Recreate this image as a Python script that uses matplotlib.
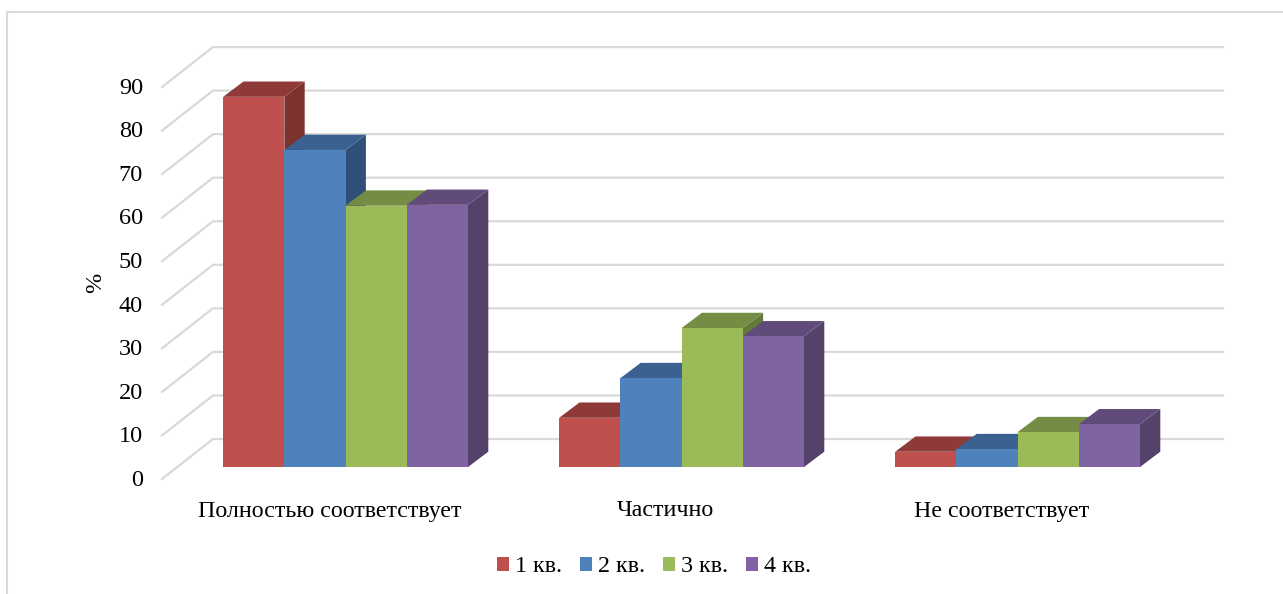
import matplotlib
matplotlib.use('Agg')
import matplotlib.pyplot as plt
from matplotlib.lines import Line2D
from matplotlib.patches import Polygon
import numpy as np

plt.rcParams['font.family'] = ['Liberation Serif', 'DejaVu Serif']

# data
categories = ['Полностью соответствует', 'Частично', 'Не соответствует']
quarters = ['1 кв.', '2 кв.', '3 кв.', '4 кв.']
q1 = [85.0, 11.3, 3.5]
q2 = [72.8, 20.4, 4.1]
q3 = [60.0, 31.9, 8.0]
q4 = [60.2, 30.0, 9.8]
y_ticks = [0, 10, 20, 30, 40, 50, 60, 70, 80, 90]

front = ['#C0504D', '#4F81BD', '#9BBB59', '#8064A2']
top = ['#8E3A38', '#3B6190', '#748C43', '#604B7A']
side = ['#7D3230', '#2F5078', '#657A3A', '#54426A']
grid_col = '#D9D9D9'

W, H = 1283, 594
fig = plt.figure(figsize=(W / 100, H / 100), dpi=100)
ax = fig.add_axes([0, 0, 1, 1])

# scales: one category is 336 px wide, 10 % is 43.55 px high
px_x = 336.0
px_y = 4.355
x0 = 345.6
y0 = 467.0
ax.set_xlim(-x0 / px_x, (W - x0) / px_x)
ax.set_ylim((y0 - H) / px_y, y0 / px_y)
ax.axis('off')

bar_w = 61.2 / px_x
dx = 20.3 / px_x
dy = 15.3 / px_y

# walls and grid
back_x = (213 - x0) / px_x
end_x = (1223 - x0) / px_x
front_x = (162 - x0) / px_x
back_off = 28 / px_y
front_off = -12 / px_y
for v in y_ticks:
    ax.plot([front_x, back_x, end_x], [v + front_off, v + back_off, v + back_off],
            color=grid_col, lw=1.6, solid_joinstyle='miter', zorder=1)
    ax.text((143 - x0) / px_x, v + front_off - 0.29, str(v), ha='right', va='center',
            fontsize=17.5, color='black')

ax.text((96 - x0) / px_x, (y0 - 283) / px_y, '%', rotation=90, ha='center', va='center',
        fontsize=17.5, color='black')

# bars, left to right so that the next one covers the side of the previous one
series = [q1, q2, q3, q4]
x = np.arange(len(categories))
z = 2
handles = []
for i, vals in enumerate(series):
    xs = x + (i - 2) * bar_w
    for xi, v in zip(xs, vals):
        ax.add_patch(Polygon([(xi + bar_w, 0), (xi + bar_w + dx, dy), (xi + bar_w + dx, v + dy), (xi + bar_w, v)],
                             facecolor=side[i], edgecolor='none', zorder=z + i * 3))
        ax.add_patch(Polygon([(xi, v), (xi + dx, v + dy), (xi + bar_w + dx, v + dy), (xi + bar_w, v)],
                             facecolor=top[i], edgecolor='none', zorder=z + i * 3 + 1))
    b = ax.bar(xs, vals, width=bar_w, align='edge', color=front[i], label=quarters[i],
               zorder=z + i * 3 + 2)
    handles.append(b)

for xi, name in zip(x, categories):
    ax.text(xi - 16 / px_x, (y0 - 511) / px_y, name, ha='center', va='center',
            fontsize=17.3, color='black')

ax.legend(handles=handles, loc='center', bbox_to_anchor=(654 / W, 1 - 567 / H), ncol=4,
          frameon=False, fontsize=17.3, handlelength=0.5, handleheight=0.5,
          handletextpad=0.25, columnspacing=0.75, borderpad=0)

# outer frame of the chart area
fig.add_artist(Line2D([7 / W, 7 / W, 1], [0, 1 - 12 / H, 1 - 12 / H], color=grid_col, lw=1.5,
                      transform=fig.transFigure))

fig.savefig('out.png', dpi=100)
